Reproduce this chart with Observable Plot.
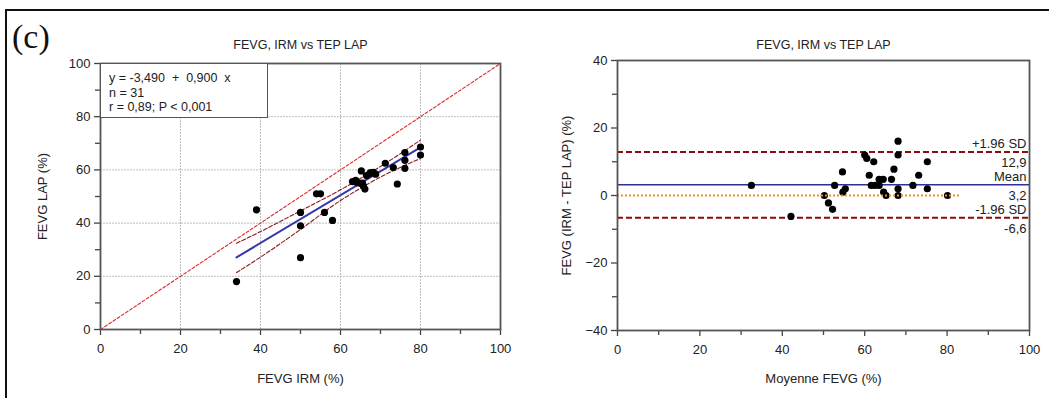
<!DOCTYPE html>
<html>
<head>
<meta charset="utf-8">
<script src="https://cdn.jsdelivr.net/npm/d3@7"></script>
<script src="https://cdn.jsdelivr.net/npm/@observablehq/plot@0.6"></script>
<style>
  html, body { margin: 0; padding: 0; background: #fff; }
  #wrap { position: relative; width: 1049px; height: 398px; overflow: hidden; background: #fff;
          font-family: "Liberation Sans", Arial, sans-serif; }
  #border { position: absolute; left: 5px; top: 9px; width: 1100px; height: 420px;
            border-left: 2px solid #111; border-top: 2px solid #111; }
  #panel { position: absolute; left: 12px; top: 18px; font-family: "Liberation Serif", "DejaVu Serif", serif;
           font-size: 34px; line-height: 38px; color: #111; }
  #legend { position: absolute; left: 100px; top: 63px; width: 168px; height: 55px; background: #fff;
            border: 1px solid #555; font-size: 12.5px; color: #222; line-height: 14.5px;
            padding: 7px 0 0 8px; box-sizing: border-box; white-space: pre; }
  .plot { position: absolute; top: 0; }
</style>
</head>
<body>
<div id="wrap">
  <div id="border"></div>
  <div id="left" class="plot" style="left:0px"></div>
  <div id="right" class="plot" style="left:530px"></div>
  <div id="panel">(c)</div>
  <div id="legend"></div>
</div>
<script>
// ---------- data ----------
const chartTitle = "FEVG, IRM vs TEP LAP";
const majorTicks = [0, 20, 40, 60, 80, 100];
const minorTicks = [10, 30, 50, 70, 90];
const gridTicks = [20, 40, 60, 80];
const baYTicks = [-40, -20, 0, 20, 40];
const baYMinor = [-30, -10, 10, 30];

// left: scatter FEVG IRM (x) vs FEVG LAP (y)
const irm = [34, 39, 50, 50, 50, 54, 55, 56, 58, 63, 63.8, 64.2, 65.2, 65, 65.7, 66.1, 66.5, 67.3, 68.2, 68.8,
             71.2, 73.2, 74.2, 76.1, 76.1, 76.1, 80, 80, 64, 67.5, 65.5];
const lap = [18, 45, 44, 39, 27, 51, 51, 44, 41, 55.6, 56.1, 55.2, 59.6, 54.9, 54, 52.8, 57.9, 58.6, 59.1, 58.4,
             62.5, 60.9, 54.7, 66.5, 63.6, 60.6, 68.6, 65.6, 55.5, 59, 55];
const identityLine = [0, 100];
const regX = [34, 80];
const regY = [27.1, 68.5];
const bandX = [34, 40, 50, 60, 65, 70, 80];
const bandUpper = [32.4, 36.8, 44.6, 52.5, 56.8, 61.3, 71.2];
const bandLower = [21.4, 27.2, 37.6, 48.5, 53.1, 57.3, 64.3];
const legendLines = ["y = -3,490  +  0,900  x", "n = 31", "r = 0,89; P < 0,001"];

// right: Bland-Altman
const baMean = [32.5, 42.1, 50.2, 51.2, 52.2, 52.7, 54.6, 54.7, 55.3, 60.0, 60.5, 61.1, 61.6, 62.2, 62.5, 63.5,
                63.5, 64.5, 64.6, 65.2, 66.5, 67.1, 68.1, 68.1, 68.1, 68.1, 71.7, 73.1, 75.2, 75.2, 80.1];
const baDiff = [3, -6.2, 0, -2.2, -4.1, 3, 7, 1, 2, 12, 11, 6, 3, 10, 3, 3,
                4.8, 4.8, 1, 0, 4.8, 7.8, 16.1, 12, 2, 0, 3, 6, 10, 2, 0];
const sdUpper = 12.9, meanDiff = 3.2, sdLower = -6.6;
const zeroLineEnd = 83.5;
const baLabels = [
  {text: "+1.96 SD", value: sdUpper, side: "above"},
  {text: "12,9", value: sdUpper, side: "below"},
  {text: "Mean", value: meanDiff, side: "above"},
  {text: "3,2", value: meanDiff, side: "below"},
  {text: "-1.96 SD", value: sdLower, side: "above"},
  {text: "-6,6", value: sdLower, side: "below"}
];

// ---------- drawing ----------
const font = {fontFamily: "'Liberation Sans', Arial, sans-serif", fontSize: "13px", color: "#222", background: "transparent"};
const axisStroke = "#444";

document.getElementById("legend").textContent = legendLines.join("\n");

const scatter = irm.map((x, i) => ({x, y: lap[i]}));
const bandUp = bandX.map((x, i) => ({x, y: bandUpper[i]}));
const bandLo = bandX.map((x, i) => ({x, y: bandLower[i]}));
const reg = regX.map((x, i) => ({x, y: regY[i]}));

const leftPlot = Plot.plot({
  width: 530, height: 398,
  marginLeft: 100, marginRight: 30, marginTop: 63, marginBottom: 69,
  x: {domain: [0, 100]}, y: {domain: [0, 100]},
  style: font,
  marks: [
    Plot.gridX({ticks: gridTicks, stroke: "#bdbdbd", strokeOpacity: 1, strokeDasharray: "2,1"}),
    Plot.gridY({ticks: gridTicks, stroke: "#bdbdbd", strokeOpacity: 1, strokeDasharray: "2,1"}),
    Plot.axisX({ticks: majorTicks, tickSize: 6, tickPadding: 8, label: null, stroke: axisStroke, strokeWidth: 1.3}),
    Plot.axisX({ticks: minorTicks, tickSize: 5, tickFormat: () => "", label: null, stroke: axisStroke, strokeWidth: 1.3}),
    Plot.axisY({ticks: majorTicks, tickSize: 6, tickPadding: 4, label: null, stroke: axisStroke, strokeWidth: 1.3}),
    Plot.axisY({ticks: minorTicks, tickSize: 5, tickFormat: () => "", label: null, stroke: axisStroke, strokeWidth: 1.3}),
    Plot.line(identityLine, {x: d => d, y: d => d, stroke: "#dd2a2a", strokeWidth: 1.1, strokeDasharray: "3,2"}),
    Plot.line(bandUp, {x: "x", y: "y", curve: "monotone-x", stroke: "#8e1b1b", strokeWidth: 1.1, strokeDasharray: "4,2"}),
    Plot.line(bandLo, {x: "x", y: "y", curve: "monotone-x", stroke: "#8e1b1b", strokeWidth: 1.1, strokeDasharray: "4,2"}),
    Plot.line(reg, {x: "x", y: "y", stroke: "#3438a8", strokeWidth: 2}),
    Plot.dot(scatter, {x: "x", y: "y", r: 3.6, fill: "#000", stroke: "none"}),
    Plot.frame({stroke: "#555", strokeWidth: 1.8}),
    Plot.text([chartTitle], {frameAnchor: "top", dy: -23, fontSize: 12.5, fill: "#222"}),
    Plot.text(["FEVG IRM (%)"], {frameAnchor: "bottom", dy: 53, fontSize: 13, fill: "#222"}),
    Plot.text(["FEVG LAP (%)"], {frameAnchor: "left", textAnchor: "middle", dx: -58, rotate: -90, fontSize: 13, fill: "#222"})
  ]
});
document.getElementById("left").appendChild(leftPlot);

const ba = baMean.map((x, i) => ({x, y: baDiff[i]}));

const rightPlot = Plot.plot({
  width: 519, height: 398,
  marginLeft: 87, marginRight: 20, marginTop: 60, marginBottom: 68,
  x: {domain: [0, 100]}, y: {domain: [-40, 40]},
  style: font,
  marks: [
    Plot.axisX({ticks: majorTicks, tickSize: 6, tickPadding: 8, label: null, stroke: axisStroke, strokeWidth: 1.3}),
    Plot.axisX({ticks: minorTicks, tickSize: 5, tickFormat: () => "", label: null, stroke: axisStroke, strokeWidth: 1.3}),
    Plot.axisY({ticks: baYTicks, tickSize: 6, tickPadding: 4, label: null, stroke: axisStroke, strokeWidth: 1.3}),
    Plot.axisY({ticks: baYMinor, tickSize: 5, tickFormat: () => "", label: null, stroke: axisStroke, strokeWidth: 1.3}),
    Plot.ruleY([sdUpper, sdLower], {stroke: "#8b0d0d", strokeWidth: 2, strokeDasharray: "6,3"}),
    Plot.ruleY([meanDiff], {stroke: "#2e2e9c", strokeWidth: 1.5}),
    Plot.dot(ba, {x: "x", y: "y", r: 3.6, fill: "#000", stroke: "none"}),
    Plot.ruleY([0], {x1: 0, x2: zeroLineEnd, stroke: "#f28c28", strokeWidth: 2, strokeDasharray: "2,2"}),
    Plot.text(baLabels, {x: 100, y: "value", text: "text", textAnchor: "end", dx: -3,
      fontSize: 13, fill: "#222", filter: d => d.side === "above", dy: -8}),
    Plot.text(baLabels, {x: 100, y: "value", text: "text", textAnchor: "end", dx: -3,
      fontSize: 13, fill: "#222", filter: d => d.side === "below", dy: 11}),
    Plot.frame({stroke: "#555", strokeWidth: 1.8}),
    Plot.text([chartTitle], {frameAnchor: "top", dy: -20, fontSize: 12.5, fill: "#222"}),
    Plot.text(["Moyenne FEVG (%)"], {frameAnchor: "bottom", dy: 52, fontSize: 13, fill: "#222"}),
    Plot.text(["FEVG (IRM - TEP LAP) (%)"], {frameAnchor: "left", textAnchor: "middle", dx: -51, rotate: -90, fontSize: 13, fill: "#222"})
  ]
});
document.getElementById("right").appendChild(rightPlot);
</script>
</body>
</html>
